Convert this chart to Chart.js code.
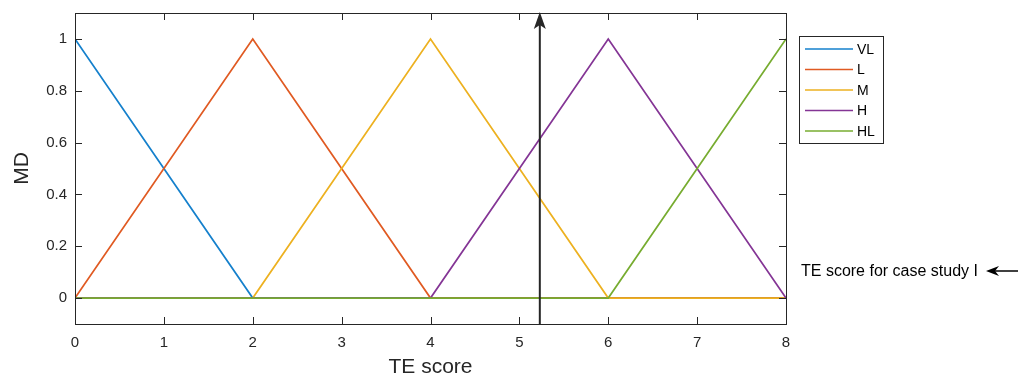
<!DOCTYPE html>
<html><head><meta charset="utf-8">
<script src="https://cdn.jsdelivr.net/npm/chart.js@4"></script>
<style>html,body{margin:0;padding:0;background:#fff;}#wrap{width:1029px;height:380px;}</style>
</head><body><div id="wrap"><canvas id="c" width="1029" height="380"></canvas></div>
<script>
const seriesNames = ['VL','L','M','H','HL'];
const seriesColors = ['#1580cc','#e05a22','#EDB120','#843595','#77AC30'];
const vlX = [0,2,8], vlY = [1,0,0];
const lX = [0,2,4,8], lY = [0,1,0,0];
const mX = [0,2,4,6,8], mY = [0,0,1,0,0];
const hX = [0,4,6,8], hY = [0,0,1,0];
const hlX = [0,6,8], hlY = [0,0,1];
const xTicks = [0,1,2,3,4,5,6,7,8];
const yTicks = [0,0.2,0.4,0.6,0.8,1];
const caseScore = 5.23;
const annotationText = 'TE score for case study I';

const xs = [vlX,lX,mX,hX,hlX], ys=[vlY,lY,mY,hY,hlY];
const datasets = seriesNames.map((n,i)=>({
  label:n, data: xs[i].map((x,j)=>({x:x,y:ys[i][j]})),
  borderColor: seriesColors[i], backgroundColor: seriesColors[i],
  borderWidth:1.7, pointRadius:0, tension:0, fill:false, order:-i
}));
const AX='#262626';
const FONT='"Liberation Sans", Arial, sans-serif';

const deco = {
  id:'deco',
  afterDatasetsDraw(chart){
    const ctx=chart.ctx, ca=chart.chartArea, sx=chart.scales.x, sy=chart.scales.y;
    ctx.save();
    ctx.strokeStyle=AX; ctx.lineWidth=1;
    ctx.strokeRect(Math.round(ca.left)+0.5, Math.round(ca.top)+0.5, Math.round(ca.right-ca.left), Math.round(ca.bottom-ca.top));
    ctx.beginPath();
    xTicks.forEach(v=>{const p=Math.round(sx.getPixelForValue(v))+0.5;
      ctx.moveTo(p,ca.bottom); ctx.lineTo(p,ca.bottom-7);
      ctx.moveTo(p,ca.top); ctx.lineTo(p,ca.top+7);});
    yTicks.forEach(v=>{const p=Math.round(sy.getPixelForValue(v))+0.5;
      ctx.moveTo(ca.left,p); ctx.lineTo(ca.left+7,p);
      ctx.moveTo(ca.right,p); ctx.lineTo(ca.right-7,p);});
    ctx.stroke();
    const px=sx.getPixelForValue(caseScore);
    ctx.strokeStyle=AX; ctx.fillStyle=AX; ctx.lineWidth=2;
    ctx.beginPath(); ctx.moveTo(px,ca.bottom); ctx.lineTo(px,ca.top+10); ctx.stroke();
    ctx.beginPath(); ctx.moveTo(px,ca.top-1); ctx.lineTo(px-6,ca.top+16); ctx.lineTo(px,ca.top+12); ctx.lineTo(px+6,ca.top+16); ctx.closePath(); ctx.fill();
    ctx.lineWidth=1; ctx.strokeStyle=AX; ctx.fillStyle='#fff';
    ctx.fillRect(799.5,36.5,84,107); ctx.strokeRect(799.5,36.5,84,107);
    ctx.font='14px '+FONT; ctx.textBaseline='middle'; ctx.textAlign='left';
    chart.data.datasets.forEach((d,i)=>{
      const y=49+i*20.5;
      ctx.strokeStyle=d.borderColor; ctx.lineWidth=1.7;
      ctx.beginPath(); ctx.moveTo(805,y); ctx.lineTo(853,y); ctx.stroke();
      ctx.fillStyle='#000'; ctx.fillText(d.label,857,y+1);
    });
    ctx.fillStyle='#000'; ctx.font='16px '+FONT;
    ctx.fillText(annotationText,801,272);
    ctx.strokeStyle='#000'; ctx.fillStyle='#000'; ctx.lineWidth=1.5;
    ctx.beginPath(); ctx.moveTo(1018,271); ctx.lineTo(994,271); ctx.stroke();
    ctx.beginPath(); ctx.moveTo(986,271); ctx.lineTo(999,266); ctx.lineTo(995,271); ctx.lineTo(999,276); ctx.closePath(); ctx.fill();
    ctx.restore();
  }
};

new Chart(document.getElementById('c'),{
  type:'line',
  data:{datasets},
  options:{
    responsive:false, animation:false, devicePixelRatio:1,
    layout:{padding:{top:13,right:243,left:0,bottom:0}},
    plugins:{legend:{display:false},tooltip:{enabled:false}},
    scales:{
      x:{type:'linear',min:0,max:8,
        afterBuildTicks(s){s.ticks=xTicks.map(v=>({value:v}));},
        afterFit(s){s.height=56; s.paddingLeft=0; s.paddingRight=0;},
        grid:{display:false,drawTicks:false},
        border:{display:false},
        ticks:{color:AX,font:{family:FONT,size:15},padding:10,maxRotation:0,autoSkip:false},
        title:{display:true,text:'TE score',color:AX,font:{family:FONT,size:21,lineHeight:1.2},padding:{top:0,bottom:0}}
      },
      y:{type:'linear',min:-0.1,max:1.1,
        afterBuildTicks(s){s.ticks=yTicks.map(v=>({value:v}));},
        afterFit(s){s.width=75; s.paddingTop=0; s.paddingBottom=0;},
        grid:{display:false,drawTicks:false},
        border:{display:false},
        ticks:{color:AX,font:{family:FONT,size:15},padding:8,autoSkip:false,callback:v=>String(Math.round(v*10)/10)},
        title:{display:true,text:'MD',color:AX,font:{family:FONT,size:21,lineHeight:1.2},padding:{top:10,bottom:0}}
      }
    }
  },
  plugins:[deco]
});
</script></body></html>
